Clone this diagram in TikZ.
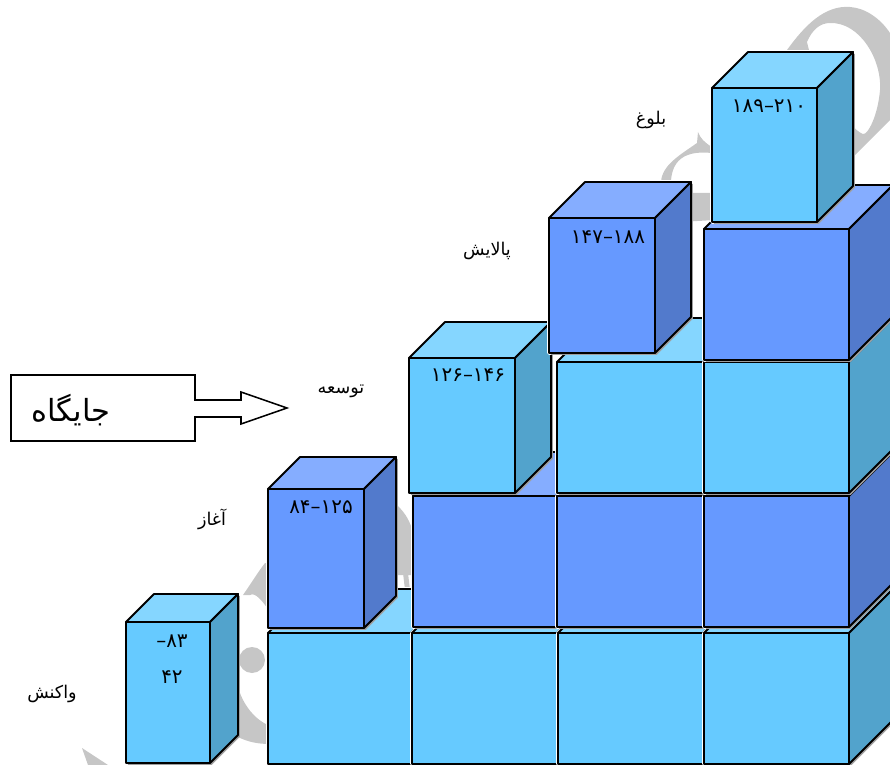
\documentclass[tikz,border=0pt]{standalone}
\usepackage{fontspec}
\usepackage{xcolor}
\usepackage{tikz}
\TeXXeTstate=1
\newfontfamily\arabicfont[Script=Arabic]{DejaVu Sans}
\definecolor{skyF}{HTML}{66CAFF}
\definecolor{skyT}{HTML}{85D6FF}
\definecolor{skyS}{HTML}{52A3CC}
\definecolor{royalF}{HTML}{6699FF}
\definecolor{royalT}{HTML}{85ADFF}
\definecolor{royalS}{HTML}{527ACC}
\definecolor{markgray}{HTML}{C6C6C6}
\tikzset{
  face/.style={draw=black,line width=1.6pt,line join=round},
  rank/.style={font=\arabicfont\fontsize{15}{15}\selectfont,inner sep=0pt},
  score/.style={font=\arabicfont\fontsize{17}{17}\selectfont,inner sep=0pt},
}
% x0,y0 (front top left), x1,y1 (front bottom right), depth, palette
\newcommand\cubeblock[6]{
  \path[draw=white,line width=3pt,line join=round]
    (#1,#2)--(#1+#5,#2-#5)--(#3+#5,#2-#5)--(#3+#5,#4-#5)--(#3,#4)--(#1,#4)--cycle;
  \fill[gray!75,shift={(1.8,1.8)}]
    (#1,#2)--(#1+#5,#2-#5)--(#3+#5,#2-#5)--(#3+#5,#4-#5)--(#3,#4)--(#1,#4)--cycle;
  \filldraw[face,fill=#6T](#1,#2)--(#1+#5,#2-#5)--(#3+#5,#2-#5)--(#3,#2)--cycle;
  \filldraw[face,fill=#6S](#3,#2)--(#3+#5,#2-#5)--(#3+#5,#4-#5)--(#3,#4)--cycle;
  \filldraw[face,fill=#6F](#1,#2) rectangle (#3,#4);
}

\begin{document}
\begin{tikzpicture}[x=0.03cm,y=-0.03cm]
\useasboundingbox (0,0) rectangle (890,765);
\clip (0,0) rectangle (890,765);
% Watermark
\fill[markgray,even odd rule](787,50) .. controls (805,25) and (825,5) .. (850,7)
  .. controls (865,8) and (880,18) .. (890,33) -- (890,120) -- (853,157) -- (780,100) -- cycle
  (807,42) .. controls (812,30) and (820,23) .. (830,23)
  .. controls (860,22) and (882,60) .. (880,90)
  .. controls (878,115) and (868,135) .. (863,134) .. controls (850,130) and (815,80) .. (807,42)
  -- cycle;
\fill[markgray](698,132) .. controls (700,138) and (705,143) .. (712,147) -- (712,153)
  .. controls (700,152) and (672,150) .. (671,182) -- (661,182)
  .. controls (662,165) and (680,155) .. (697,143) -- cycle;
\fill[markgray](680,193) -- (715,193) -- (715,220) -- (680,222) -- cycle;
\fill[markgray](397,505) .. controls (410,518) and (418,532) .. (414,575) -- (396,575) -- cycle;
\fill[markgray](403,573) -- (408,573) -- (410,590) -- (405,590) -- cycle;
\fill[markgray](265,563) -- (270,563) -- (270,612) .. controls (262,600) and (255,592) .. (250,595)
  -- (243,595) .. controls (250,585) and (258,572) .. (265,563) -- cycle;
\fill[markgray](252,660) circle (13);
\fill[markgray](238,687) .. controls (243,705) and (255,720) .. (270,726) -- (270,744)
  .. controls (258,744) and (248,742) .. (238,737) -- cycle;
\fill[markgray](82,748) -- (108,765) -- (88,765) -- cycle;
% Stacked rows
\foreach \xa/\xb in {268/411,412/557,558/703,704/849}
  \cubeblock{\xa}{633}{\xb}{764}{44}{sky};
\foreach \xa/\xb in {413/556,557/703,704/849}
  \cubeblock{\xa}{496}{\xb}{627}{44}{royal};
\foreach \xa/\xb in {557/703,704/849}
  \cubeblock{\xa}{362}{\xb}{493}{44}{sky};
\cubeblock{704}{229}{849}{360}{44}{royal};
% Stage cubes
\cubeblock{126}{622}{210}{763}{28}{sky};
\cubeblock{268}{489}{364}{628}{32}{royal};
\cubeblock{409}{358}{515}{493}{36}{sky};
\cubeblock{549}{218}{655}{353}{36}{royal};
\cubeblock{712}{88}{817}{222}{36}{sky};
% Position box with its arrow
\draw[line width=1.3pt,fill=white,line join=miter](11,375)--(195,375)--(195,400)--(241,400)
  --(241,392)--(287,408)--(241,424)--(241,417)--(195,417)--(195,441)--(11,441)--cycle;
\node[font=\arabicfont\fontsize{26}{26}\selectfont,inner sep=0pt] (position) at (71,410)
  {\beginR جایگاه\endR};
% Stage names
\node[rank] (reaction) at (52,694) {\beginR واکنش\endR};
\node[rank] (start) at (212,519) {\beginR آغاز\endR};
\node[rank] (growth) at (341,391) {\beginR توسعه\endR};
\node[rank] (refine) at (487,251) {\beginR پالایش\endR};
\node[rank] (mature) at (651,120) {\beginR بلوغ\endR};
% Score ranges
\node[score] (rangeAa) at (172,641) {۸۳–};
\node[score] (rangeAb) at (172,677) {۴۲};
\node[score] (rangeB) at (321,507) {۱۲۵–۸۴};
\node[score] (rangeC) at (468,375) {۱۴۶–۱۲۶};
\node[score] (rangeD) at (608,237) {۱۸۸–۱۴۷};
\node[score] (rangeE) at (769,106) {۲۱۰–۱۸۹};
\end{tikzpicture}
\end{document}
